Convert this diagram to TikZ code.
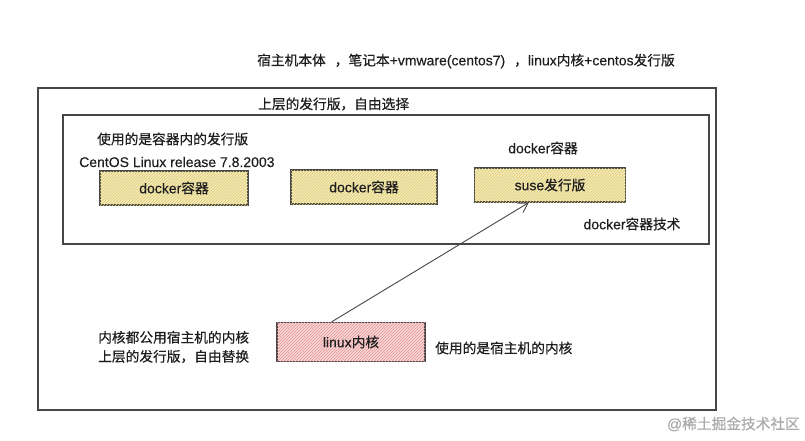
\documentclass[tikz,border=0pt]{standalone}
\usepackage{fontspec}
\setmainfont{Liberation Sans}[FakeBold=0.25]
\newfontfamily\cjk{Noto Sans CJK SC}[FakeBold=0.5, Scale=0.98]
\newcommand{\zh}[1]{{\cjk #1}}
\usepackage{xcolor}
\usepackage{tikz}
\usetikzlibrary{arrows.meta, positioning, calc, patterns}
\definecolor{inkDark}{RGB}{30, 30, 30}
\definecolor{frameGray}{RGB}{70, 70, 70}
\definecolor{sandFill}{RGB}{244, 234, 182}
\definecolor{sandHatch}{RGB}{222, 204, 120}
\definecolor{roseFill}{RGB}{248, 214, 214}
\definecolor{roseHatch}{RGB}{228, 150, 150}
\definecolor{markGray}{RGB}{170, 170, 170}
\tikzset{
  note/.style={font=\fontsize{14}{19}\selectfont, text=inkDark, inner sep=0pt},
  sandbox/.style={draw=frameGray, line width=1.3pt, fill=sandFill,
    postaction={pattern=north east lines, pattern color=sandHatch},
    minimum height=34pt, note},
  rosebox/.style={draw=frameGray, line width=1.3pt, fill=roseFill,
    postaction={pattern=north east lines, pattern color=roseHatch},
    minimum width=148pt, minimum height=39pt, note}
}

\begin{document}
\begin{tikzpicture}[x=1pt, y=-1pt]
    \useasboundingbox (0,0) rectangle (805,441);
    % Frames
    \draw[frameGray, line width=1.2pt] (38,88) rectangle (716,410); % host
    \draw[frameGray, line width=1.2pt] (63,115) rectangle (709,244); % upper layer
    % Labels
    \node[note, anchor=west] (host) at (257,61) {\zh{宿主机本体}\hspace{9pt}\zh{，笔记本}+vmware(centos7)\hspace{9pt}\zh{，}linux\zh{内核}+centos\zh{发行版}};
    \node[note, anchor=west] (upper) at (258,104) {\zh{上层的发行版，自由选择}};
    \node[note, anchor=west] (inside) at (97,139) {\zh{使用的是容器内的发行版}};
    \node[note, anchor=west] (release) at (79,162) {CentOS Linux release 7.8.2003};
    % Containers
    \node[sandbox, minimum width=148pt] (dockA) at (174,188) {docker\zh{容器}};
    \node[sandbox, minimum width=146pt] (dockB) at (364,187) {docker\zh{容器}};
    \node[sandbox, minimum width=151pt] (suse) at (550,185) {suse\zh{发行版}};
    \node[note] (dockC) at (543,148) {docker\zh{容器}};
    \node[note] (tech) at (632,224) {docker\zh{容器技术}};
    % Kernel
    \node[rosebox] (kernel) at (351,342) {linux\zh{内核}};
    \node[note, anchor=west, align=left] (share) at (98,347) {\zh{内核都公用宿主机的内核}\\\zh{上层的发行版，自由替换}};
    \node[note, anchor=west] (uses) at (435,348) {\zh{使用的是宿主机的内核}};
    % Arrow
    \draw[-{Straight Barb[length=9pt, width=11pt]}, frameGray, line width=0.9pt]
      ($(kernel.north west)!0.37!(kernel.north east)$) -- ($(suse.south west)!0.36!(suse.south east)$);
    % Watermark
    \node[note, anchor=east, text=markGray, font=\fontsize{15}{19}\selectfont] (mark) at (800,424) {@\zh{稀土掘金技术社区}};
  \end{tikzpicture}
\end{document}
